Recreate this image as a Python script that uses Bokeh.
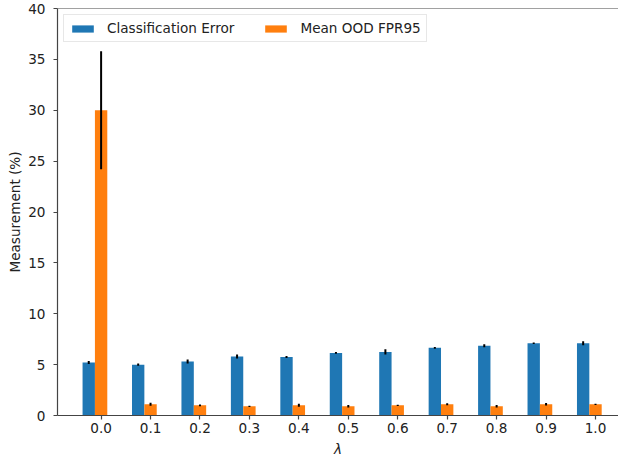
import numpy as np
from bokeh.plotting import figure
from bokeh.models import Range1d, FixedTicker, Legend, LegendItem, Span, ColumnDataSource
from bokeh.embed import file_html
from bokeh.resources import INLINE

lambdas = ["0.0", "0.1", "0.2", "0.3", "0.4", "0.5", "0.6", "0.7", "0.8", "0.9", "1.0"]
cls_err = [5.2, 5.0, 5.3, 5.8, 5.75, 6.15, 6.25, 6.65, 6.85, 7.1, 7.1]
cls_err_std = [0.15, 0.1, 0.2, 0.2, 0.1, 0.08, 0.25, 0.08, 0.15, 0.08, 0.2]
ood_fpr = [30.0, 1.1, 1.0, 0.9, 1.0, 0.9, 1.0, 1.1, 0.9, 1.1, 1.1]
ood_fpr_std = [5.8, 0.15, 0.08, 0.06, 0.15, 0.12, 0.06, 0.1, 0.12, 0.12, 0.06]
y_ticks = [0, 5, 10, 15, 20, 25, 30, 35, 40]
x_title = "λ"
y_title = "Measurement (%)"

FONT = "DejaVu Sans"
FS = "13.6px"
BLUE = "#1f77b4"
ORANGE = "#ff7f0e"
BAR_W = 0.25
X_LO, X_HI = -0.882, 10.465
Y_LO, Y_HI = 0, 40

idx = np.arange(len(lambdas))
cls_arr = np.array(cls_err)
cls_sd = np.array(cls_err_std)
ood_arr = np.array(ood_fpr)
ood_sd = np.array(ood_fpr_std)

# classification bars sit one bar-width left of the tick, OOD bars on the tick
src_cls = ColumnDataSource(dict(x=idx - BAR_W, top=cls_arr,
                                lo=cls_arr - cls_sd, hi=cls_arr + cls_sd))
src_ood = ColumnDataSource(dict(x=idx.astype(float), top=ood_arr,
                                lo=ood_arr - ood_sd, hi=ood_arr + ood_sd))

p = figure(width=618, height=459, output_backend="svg", toolbar_location=None,
           x_range=Range1d(X_LO, X_HI), y_range=Range1d(Y_LO, Y_HI),
           min_border_left=57, min_border_right=0, min_border_top=8, min_border_bottom=44)

p.xgrid.visible = False
p.ygrid.visible = False
p.outline_line_color = None
p.background_fill_color = "white"
p.border_fill_color = "white"

rb = p.vbar(x="x", top="top", width=BAR_W, bottom=0, source=src_cls,
            fill_color=BLUE, line_color=None)
ro = p.vbar(x="x", top="top", width=BAR_W, bottom=0, source=src_ood,
            fill_color=ORANGE, line_color=None)
p.segment(x0="x", y0="lo", x1="x", y1="hi", source=src_cls, line_color="black", line_width=2)
p.segment(x0="x", y0="lo", x1="x", y1="hi", source=src_ood, line_color="black", line_width=2)

p.add_layout(Span(location=Y_HI, dimension="width", line_color="#444444", line_width=1.2))

for ax in (p.xaxis[0], p.yaxis[0]):
    ax.axis_line_color = "#444444"
    ax.axis_line_width = 1.2
    ax.major_tick_line_color = "#444444"
    ax.major_tick_line_width = 1.2
    ax.major_tick_out = 4
    ax.major_tick_in = 0
    ax.minor_tick_line_color = None
    ax.major_label_text_font = FONT
    ax.major_label_text_font_size = FS
    ax.major_label_text_color = "#222222"
    ax.axis_label_text_font = FONT
    ax.axis_label_text_font_size = FS
    ax.axis_label_text_font_style = "normal"
    ax.axis_label_text_color = "#222222"

p.xaxis.ticker = FixedTicker(ticks=list(idx))
p.xaxis.major_label_overrides = {int(i): lab for i, lab in zip(idx, lambdas)}
p.xaxis.axis_label = x_title
p.xaxis.axis_label_text_font_style = "italic"
p.xaxis.major_label_standoff = 3
p.xaxis.axis_label_standoff = 5

p.yaxis.ticker = FixedTicker(ticks=y_ticks)
p.yaxis.axis_label = y_title
p.yaxis.major_label_standoff = 8
p.yaxis.axis_label_standoff = 2

legend = Legend(items=[LegendItem(label="Classification Error", renderers=[rb]),
                       LegendItem(label="Mean OOD FPR95", renderers=[ro])],
                orientation="horizontal", location="top_left",
                label_text_font=FONT, label_text_font_size=FS, label_text_color="#222222",
                glyph_width=27, glyph_height=9, label_height=14, label_standoff=11,
                spacing=28, padding=5, margin=6,
                border_line_color="#d0d0d0", border_line_width=1,
                background_fill_color="white", background_fill_alpha=0.8)
p.add_layout(legend)

open("out.html", "w").write(file_html(p, INLINE))
